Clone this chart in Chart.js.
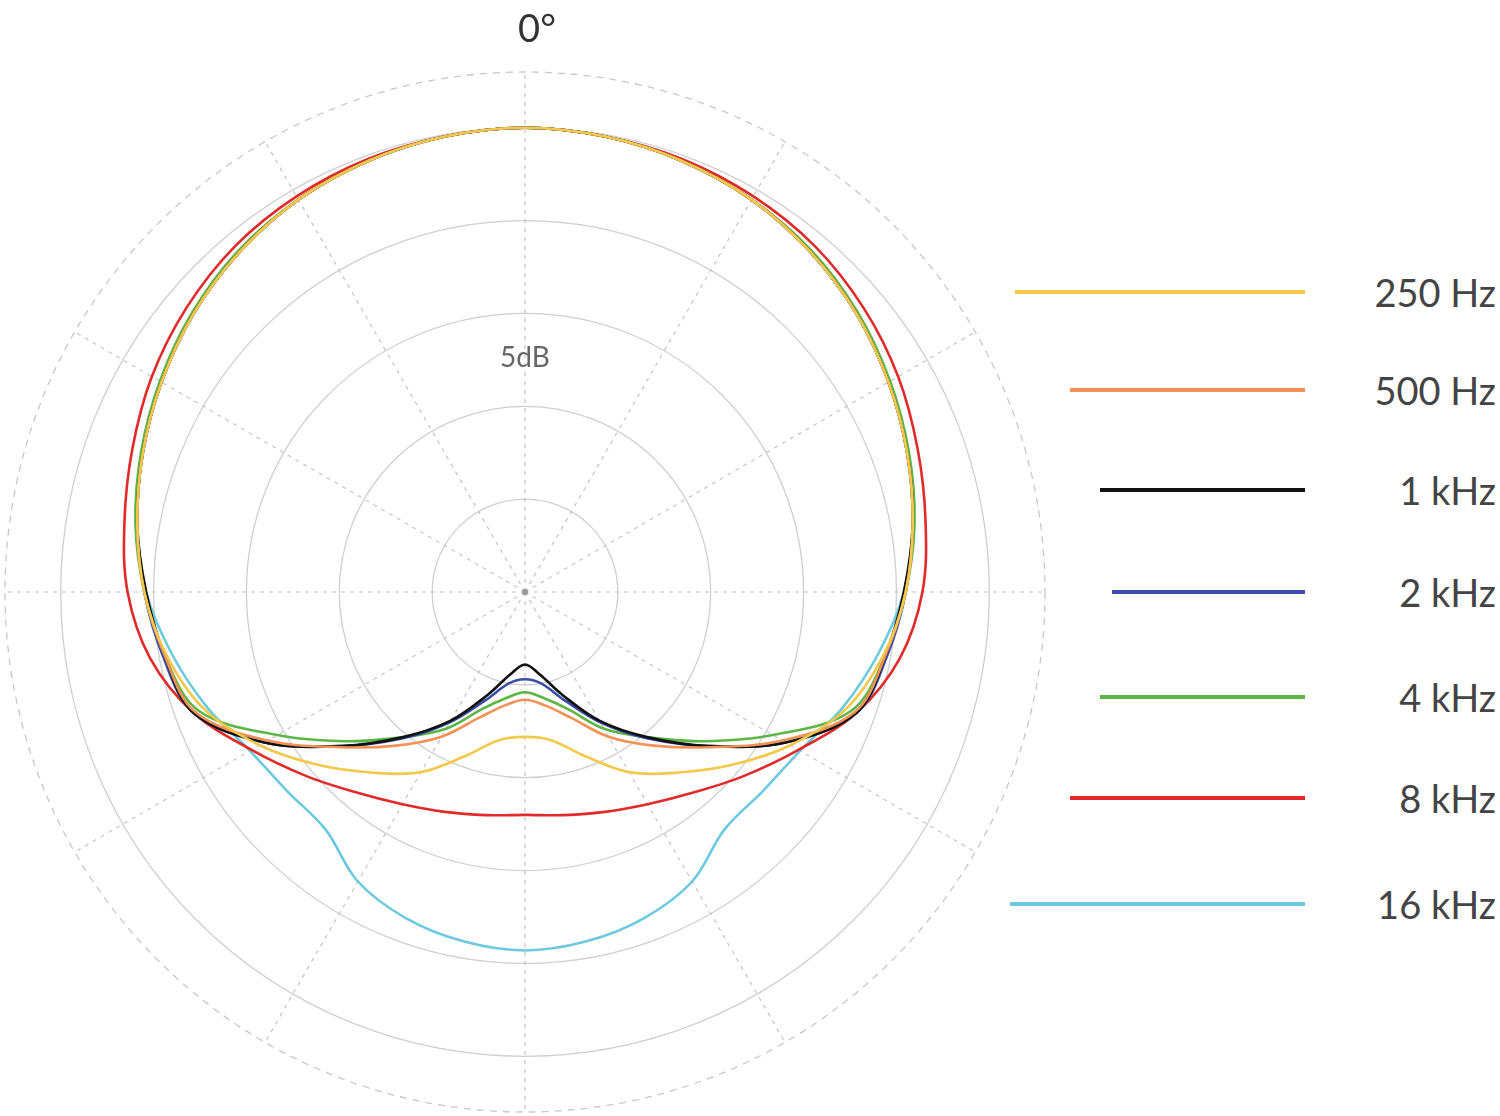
<!DOCTYPE html>
<html><head><meta charset="utf-8">
<script src="https://cdn.jsdelivr.net/npm/chart.js@4"></script>
<style>
body{margin:0;background:#fff;width:1500px;height:1116px;overflow:hidden;position:relative;font-family:"Lato","Open Sans",sans-serif}
#wrap{position:absolute;left:0;top:0;width:1050px;height:1116px}
.lg{position:absolute;height:4px}
.lt{position:absolute;right:4px;font-size:38px;color:#444;line-height:40px}
</style></head><body>
<div id="wrap"><canvas id="c"></canvas></div>
<div id="legend"></div>
<script>
// angles 0..350 step 10 (clockwise from front)
const angles = [0,10,20,30,40,50,60,70,80,90,100,110,120,130,140,150,160,170,180,190,200,210,220,230,240,250,260,270,280,290,300,310,320,330,340,350];
const seriesNames = ["250 Hz","500 Hz","1 kHz","2 kHz","4 kHz","8 kHz","16 kHz"];
const colors = ["#f2c94c","#f39257","#111111","#3a4da6","#5bb646","#e12a2a","#6cc9df"];
const hz250 = [0,-0.1,-0.3,-0.6,-1.1,-1.7,-2.4,-3.1,-3.8,-4.5,-5.4,-6.6,-8.5,-10.5,-12.3,-13.8,-15.6,-16.9,-17.2,-16.9,-15.6,-13.8,-12.3,-10.5,-8.5,-6.6,-5.4,-4.5,-3.8,-3.1,-2.4,-1.7,-1.1,-0.6,-0.3,-0.1];
const hz500 = [0,-0.1,-0.3,-0.6,-1.1,-1.7,-2.4,-3.1,-3.8,-4.5,-5.3,-6.1,-9.0,-12.0,-14.2,-16.0,-17.8,-18.8,-19.2,-18.8,-17.8,-16.0,-14.2,-12.0,-9.0,-6.1,-5.3,-4.5,-3.8,-3.1,-2.4,-1.7,-1.1,-0.6,-0.3,-0.1];
const k1 = [0,-0.1,-0.3,-0.6,-1.1,-1.7,-2.4,-3.1,-3.8,-4.6,-5.3,-6.0,-8.8,-12.1,-14.8,-17.0,-19.1,-20.5,-21.1,-20.5,-19.1,-17.0,-14.8,-12.1,-8.8,-6.0,-5.3,-4.6,-3.8,-3.1,-2.4,-1.7,-1.1,-0.6,-0.3,-0.1];
const k2 = [0,-0.1,-0.3,-0.6,-1.1,-1.7,-2.4,-3.1,-3.8,-4.5,-5.2,-6.0,-8.8,-12.1,-14.7,-16.9,-18.8,-20.0,-20.3,-20.0,-18.8,-16.9,-14.7,-12.1,-8.8,-6.0,-5.2,-4.5,-3.8,-3.1,-2.4,-1.7,-1.1,-0.6,-0.3,-0.1];
const k4 = [0,-0.1,-0.3,-0.6,-1.0,-1.6,-2.3,-3.0,-3.7,-4.5,-5.3,-6.3,-9.6,-12.5,-14.8,-16.5,-18.3,-19.2,-19.6,-19.2,-18.3,-16.5,-14.8,-12.5,-9.6,-6.3,-5.3,-4.5,-3.7,-3.0,-2.3,-1.6,-1.0,-0.6,-0.3,-0.1];
const k8 = [0,-0.1,-0.2,-0.4,-0.7,-1.2,-1.8,-2.5,-3.1,-3.6,-4.5,-6.0,-8.0,-9.6,-10.9,-11.8,-12.4,-12.8,-13.0,-12.8,-12.4,-11.8,-10.9,-9.6,-8.0,-6.0,-4.5,-3.6,-3.1,-2.5,-1.8,-1.2,-0.7,-0.4,-0.2,-0.1];
const k16 = [0,-0.1,-0.3,-0.6,-1.1,-1.7,-2.4,-3.1,-3.8,-4.6,-5.7,-6.8,-7.9,-8.3,-8.3,-7.0,-6.3,-5.9,-5.7,-5.9,-6.3,-7.0,-8.3,-8.3,-7.9,-6.8,-5.7,-4.6,-3.8,-3.1,-2.4,-1.7,-1.1,-0.6,-0.3,-0.1];
const allData = [hz250,hz500,k1,k2,k4,k8,k16];
const legendY = [292,390,490,592,697,798,904];
const legendX = [1015,1070,1100,1112,1100,1070,1010];

const lg = document.getElementById('legend');
seriesNames.forEach((n,i)=>{
  const l=document.createElement('div');l.className='lg';
  l.style.cssText=`left:${legendX[i]}px;width:${1305-legendX[i]}px;top:${legendY[i]-2}px;background:${colors[i]}`;
  lg.appendChild(l);
  const t=document.createElement('div');t.className='lt';t.textContent=n;t.style.top=(legendY[i]-20)+'px';
  lg.appendChild(t);
});

const deco = {
  id:'deco',
  afterDatasetsDraw(chart){
    const s=chart.scales.r, ctx=chart.ctx;
    ctx.save();
    ctx.fillStyle='#999';ctx.beginPath();ctx.arc(s.xCenter,s.yCenter,3,0,Math.PI*2);ctx.fill();
    ctx.fillStyle='#333';ctx.font='38px Lato, sans-serif';ctx.textAlign='center';ctx.textBaseline='alphabetic';
    ctx.fillText('0°',s.xCenter+12,s.yCenter-s.drawingArea-30);
    ctx.fillStyle='#666';ctx.font='28px Lato, sans-serif';ctx.textBaseline='middle';
    ctx.fillText('5dB',s.xCenter,s.yCenter-s.getDistanceFromCenterForValue(-12.4));
    ctx.restore();
  }
};

new Chart(document.getElementById('c'),{
  type:'radar',
  data:{labels:angles.map(a=>a+'°'),datasets:seriesNames.map((n,i)=>({label:n,data:allData[i],borderColor:colors[i],borderWidth:2.6,pointRadius:0,fill:false,tension:0.35}))},
  options:{responsive:true,maintainAspectRatio:false,animation:false,
    layout:{padding:{top:68,left:5,right:5,bottom:0}},
    plugins:{legend:{display:false},tooltip:{enabled:false}},
    scales:{r:{min:-25,max:3,
      ticks:{display:false,stepSize:5},
      pointLabels:{display:false},
      grid:{circular:true,color:ctx=>ctx.tick&&ctx.tick.value===3?'#c8c8c8':'#cfcfcf',lineWidth:1.3},
      border:{dash:ctx=>ctx.tick&&ctx.tick.value===3?[7,6]:[]},
      angleLines:{color:ctx=>ctx.index%3===0?'#c4c4c4':'rgba(0,0,0,0)',borderDash:[4,5],lineWidth:1.2}
    }}
  },
  plugins:[deco]
});
</script></body></html>
